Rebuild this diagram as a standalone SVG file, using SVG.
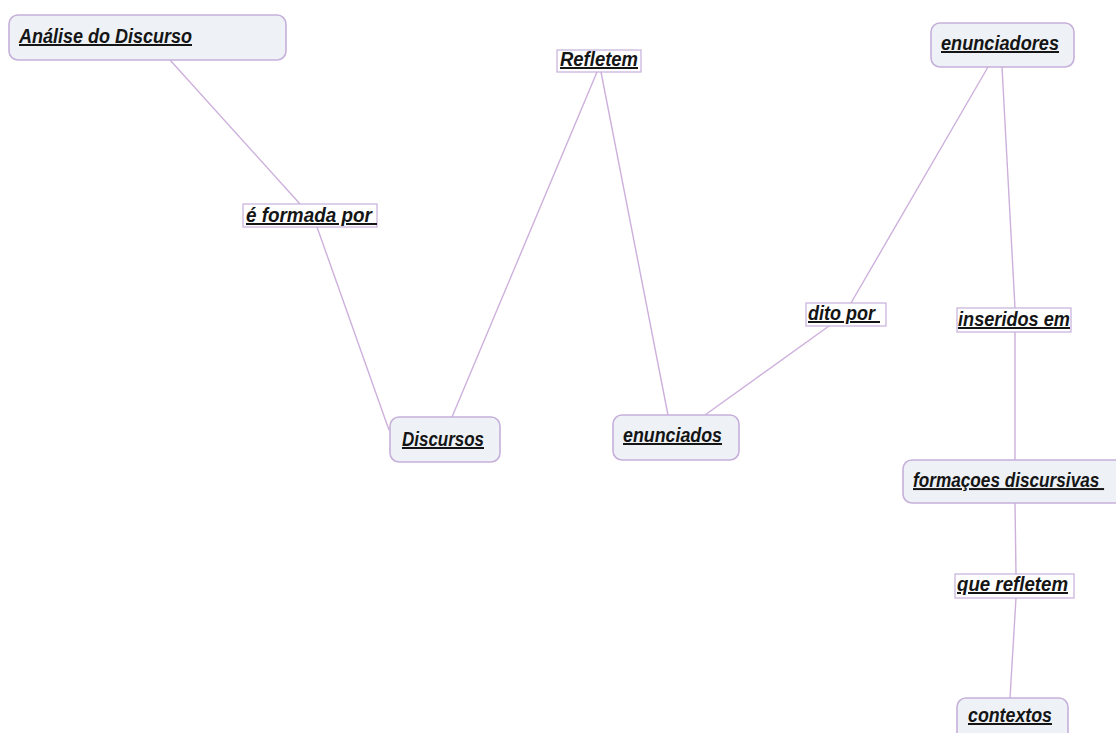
<svg xmlns="http://www.w3.org/2000/svg" width="1116" height="733" viewBox="0 0 1116 733">
<style>
.bg{fill:#ffffff}
.node{fill:#eef2f6;stroke:#c6b0da;stroke-width:1.6}
.lab{fill:#ffffff;stroke:#c6b0da;stroke-width:1.2}
.edge{stroke:#cdb0dc;stroke-width:1.4;fill:none}
text{font-family:"Liberation Sans",Arial,sans-serif;font-weight:bold;font-style:italic;font-size:20px;fill:#151515;text-decoration:underline}
</style>
<rect class="bg" x="0" y="0" width="1116" height="733"/>
<g id="connectors">
<line class="edge" x1="170" y1="60" x2="300" y2="204"/>
<line class="edge" x1="317" y1="227" x2="389" y2="430"/>
<line class="edge" x1="597" y1="72" x2="452" y2="417"/>
<line class="edge" x1="601" y1="72" x2="668" y2="415"/>
<line class="edge" x1="988" y1="67" x2="851" y2="303"/>
<line class="edge" x1="829" y1="326" x2="705" y2="415"/>
<line class="edge" x1="1002" y1="67" x2="1015" y2="308"/>
<line class="edge" x1="1015" y1="332" x2="1015" y2="460"/>
<line class="edge" x1="1015" y1="503" x2="1016" y2="574"/>
<line class="edge" x1="1016" y1="598" x2="1010" y2="698"/>
</g>
<g id="n-analise">
<rect class="node" x="9" y="15" width="277" height="45" rx="9"/>
<text x="19" y="43" textLength="173" lengthAdjust="spacingAndGlyphs">Análise do Discurso</text>
</g>
<g id="l-formada">
<rect class="lab" x="243" y="204" width="134" height="23"/>
<text x="246" y="222" textLength="131" lengthAdjust="spacingAndGlyphs" xml:space="preserve">é formada por </text>
</g>
<g id="n-discursos">
<rect class="node" x="390" y="417" width="110" height="45" rx="9"/>
<text x="402" y="446" textLength="82" lengthAdjust="spacingAndGlyphs">Discursos</text>
</g>
<g id="l-refletem">
<rect class="lab" x="557" y="50" width="84" height="22"/>
<text x="560" y="66" textLength="78" lengthAdjust="spacingAndGlyphs">Refletem</text>
</g>
<g id="n-enunciados">
<rect class="node" x="613" y="415" width="126" height="45" rx="9"/>
<text x="623" y="442" textLength="99" lengthAdjust="spacingAndGlyphs">enunciados</text>
</g>
<g id="l-dito">
<rect class="lab" x="806" y="303" width="80" height="23"/>
<text x="808" y="320" textLength="72" lengthAdjust="spacingAndGlyphs" xml:space="preserve">dito por </text>
</g>
<g id="n-enunciadores">
<rect class="node" x="931" y="23" width="143" height="44" rx="9"/>
<text x="941" y="50" textLength="118" lengthAdjust="spacingAndGlyphs">enunciadores</text>
</g>
<g id="l-inseridos">
<rect class="lab" x="957" y="308" width="114" height="24"/>
<text x="958" y="326" textLength="112" lengthAdjust="spacingAndGlyphs">inseridos em</text>
</g>
<g id="n-formacoes">
<path class="node" d="M1116 460 H912 A9 9 0 0 0 903 469 V494 A9 9 0 0 0 912 503 H1116"/>
<text transform="translate(913,487) scale(0.86,1)" x="0" y="0" xml:space="preserve">formaçoes discursivas </text>
</g>
<g id="l-querefletem">
<rect class="lab" x="955" y="574" width="119" height="24"/>
<text x="957" y="591" textLength="111" lengthAdjust="spacingAndGlyphs">que refletem</text>
</g>
<g id="n-contextos">
<path class="node" d="M957 733 V707 A9 9 0 0 1 966 698 H1059 A9 9 0 0 1 1068 707 V733"/>
<text x="968" y="722" textLength="84" lengthAdjust="spacingAndGlyphs">contextos</text>
</g>
</svg>
